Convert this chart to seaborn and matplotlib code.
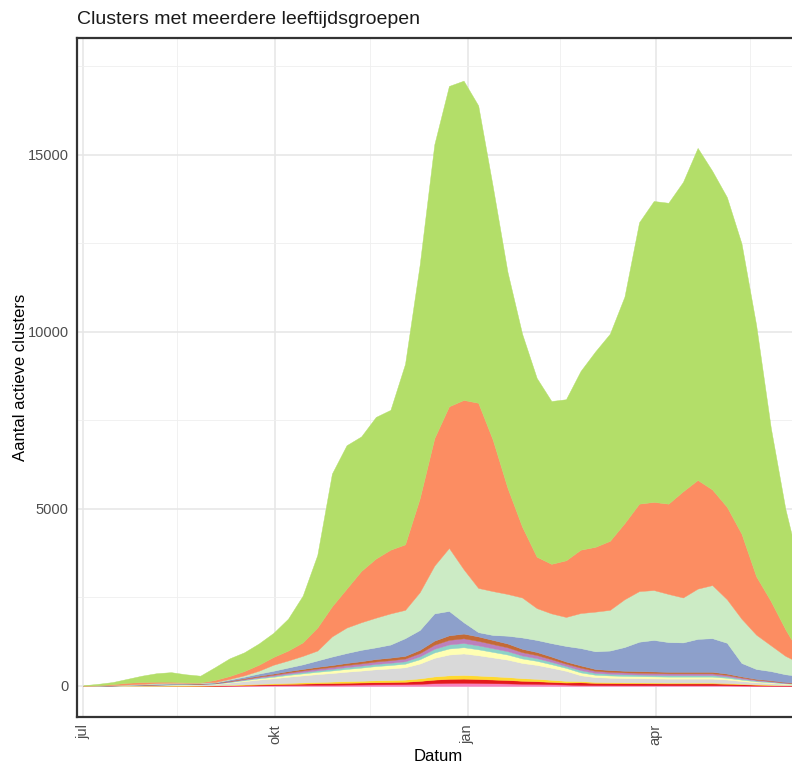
import matplotlib.pyplot as plt
import numpy as np
import pandas as pd
import seaborn as sns

# Weekly dates, 1 jul 2020 - 9 jun 2021
dates = pd.date_range("2020-07-01", periods=50, freq="7D")

# Upper edge of every band (stacked), bottom to top
pink_top = [0, 0, 1, 2, 2, 3, 3, 4, 4, 5, 9, 13, 17, 21, 25, 29, 32, 35, 39, 42,
            46, 48, 51, 61, 77, 86, 89, 84, 78, 72, 63, 58, 50, 41, 29, 24, 23, 22, 21, 21,
            20, 20, 20, 20, 18, 14, 10, 8, 6, 4]
red_top = [0, 1, 2, 4, 5, 6, 8, 8, 10, 13, 21, 31, 41, 49, 59, 67, 76, 83, 91, 98,
           106, 112, 119, 143, 179, 200, 207, 196, 182, 168, 147, 134, 116, 97, 104, 86, 81, 77, 76, 74,
           72, 72, 72, 72, 63, 49, 36, 29, 20, 14]
yellow_top = [1, 2, 3, 5, 7, 9, 12, 13, 15, 19, 32, 46, 61, 74, 88, 101, 113, 124, 137, 147,
              160, 168, 179, 214, 269, 300, 311, 294, 273, 252, 221, 202, 174, 145, 139, 115, 108, 103, 101, 98,
              96, 96, 96, 96, 84, 65, 48, 38, 26, 19]
grey_top = [2, 5, 9, 16, 22, 28, 34, 37, 43, 56, 93, 136, 180, 217, 260, 298, 335, 366, 403, 434,
            471, 496, 527, 632, 794, 887, 918, 868, 806, 744, 651, 595, 515, 428, 302, 250, 234, 224, 218, 213,
            208, 208, 208, 208, 182, 140, 104, 83, 57, 42]
pyellow_top = [2, 6, 11, 19, 26, 33, 41, 44, 52, 67, 111, 163, 215, 259, 311, 355, 400, 437, 481, 518,
               562, 592, 629, 755, 947, 1058, 1095, 1036, 962, 888, 777, 710, 614, 511, 383, 317, 297, 284, 277, 271,
               264, 264, 264, 264, 231, 178, 132, 106, 73, 53]
teal_top = [2, 7, 12, 21, 29, 37, 45, 49, 57, 74, 123, 180, 238, 287, 344, 394, 443, 484, 533, 574,
            623, 656, 697, 836, 1050, 1173, 1214, 1148, 1066, 984, 861, 787, 681, 566, 447, 370, 347, 331, 323, 316,
            308, 308, 308, 308, 270, 208, 154, 123, 85, 62]
purple_top = [3, 7, 14, 23, 32, 41, 50, 55, 64, 82, 137, 200, 264, 319, 382, 437, 491, 537, 592, 637,
              692, 728, 774, 928, 1165, 1301, 1347, 1274, 1183, 1092, 956, 874, 755, 628, 516, 427, 400, 383, 374, 365,
              356, 356, 356, 356, 312, 240, 178, 142, 98, 71]
brown_top = [3, 8, 15, 25, 35, 45, 55, 60, 70, 90, 150, 220, 290, 350, 420, 480, 540, 590, 650, 700,
             760, 800, 850, 1020, 1280, 1430, 1480, 1400, 1300, 1200, 1050, 960, 830, 690, 580, 480, 450, 430, 420, 410,
             400, 400, 400, 400, 350, 270, 200, 160, 110, 80]
blue_top = [5, 10, 20, 30, 45, 60, 70, 70, 80, 100, 180, 260, 350, 430, 520, 610, 720, 830, 930, 1020,
            1090, 1170, 1350, 1580, 2050, 2120, 1800, 1520, 1440, 1420, 1370, 1300, 1210, 1130, 1070, 980, 1000, 1100, 1250, 1300,
            1240, 1230, 1330, 1350, 1220, 650, 480, 420, 330, 280]
palegreen_top = [6, 12, 25, 40, 60, 80, 90, 90, 95, 110, 200, 300, 430, 600, 720, 850, 1000, 1400, 1650, 1800,
                 1930, 2050, 2150, 2650, 3400, 3900, 3300, 2770, 2680, 2600, 2500, 2200, 2050, 1950, 2060, 2100, 2150, 2450, 2680, 2710,
                 2600, 2500, 2750, 2850, 2450, 1900, 1450, 1150, 850, 650]
salmon_top = [10, 20, 50, 90, 110, 120, 120, 100, 100, 170, 280, 420, 600, 820, 1000, 1230, 1650, 2250, 2750, 3250,
              3600, 3850, 4000, 5300, 7000, 7900, 8080, 8000, 6950, 5600, 4500, 3650, 3450, 3550, 3850, 3930, 4100, 4600, 5150, 5200,
              5150, 5500, 5820, 5550, 5060, 4300, 3100, 2400, 1600, 900]
green_top = [20, 60, 110, 200, 290, 360, 390, 330, 290, 530, 780, 950, 1200, 1500, 1900, 2550, 3700, 6000, 6800, 7050,
             7600, 7800, 9100, 11900, 15300, 16950, 17100, 16400, 14100, 11700, 9950, 8700, 8050, 8100, 8900, 9450, 9950, 11000, 13100, 13700,
             13650, 14240, 15200, 14550, 13810, 12500, 10200, 7300, 5000, 3300]

bands = [
    (pink_top, "#f781bf"),
    (red_top, "#e41a1c"),
    (yellow_top, "#ffd92f"),
    (grey_top, "#d9d9d9"),
    (pyellow_top, "#ffffb3"),
    (teal_top, "#8dd3c7"),
    (purple_top, "#bc80bd"),
    (brown_top, "#c46a35"),
    (blue_top, "#8da0cb"),
    (palegreen_top, "#ccebc5"),
    (salmon_top, "#fc8d62"),
    (green_top, "#b3de69"),
]

month_ticks = pd.to_datetime(["2020-07-01", "2020-10-01", "2021-01-01", "2021-04-01"])
month_labels = ["jul", "okt", "jan", "apr"]
mid_ticks = pd.to_datetime(["2020-08-15", "2020-11-15", "2021-02-14", "2021-05-16"])

sns.set_theme(style="white")
plt.rcParams["font.family"] = ["Liberation Sans", "DejaVu Sans"]

fig = plt.figure(figsize=(7.92, 7.66), dpi=100)
ax = fig.add_axes([0.0972, 0.064, 0.9129, 0.8864])

lower = np.zeros(len(dates))
for top, col in bands:
    top = np.asarray(top, dtype=float)
    ax.fill_between(dates, lower, top, color=col, linewidth=0.3, edgecolor=col, zorder=2)
    lower = top

ax.set_xlim(pd.Timestamp("2020-06-28"), pd.Timestamp("2021-06-09"))
ax.set_ylim(-876, 18305)

ax.set_xticks(month_ticks)
ax.set_xticklabels(month_labels, rotation=90, fontsize=10.5, color="#4d4d4d")
ax.set_xticks(mid_ticks, minor=True)
ax.set_yticks([0, 5000, 10000, 15000])
ax.set_yticklabels(["0", "5000", "10000", "15000"], fontsize=10.5, color="#4d4d4d")
ax.set_yticks([2500, 7500, 12500, 17500], minor=True)
ax.tick_params(which="both", length=0)
ax.tick_params(axis="y", pad=6)
ax.tick_params(axis="x", pad=5)

ax.grid(which="major", color="#e6e6e6", linewidth=1.1, zorder=0)
ax.grid(which="minor", color="#efefef", linewidth=0.6, zorder=0)
ax.set_axisbelow(True)

for sp in ax.spines.values():
    sp.set_color("#333333")
    sp.set_linewidth(1.6)

ax.set_xlabel("Datum", fontsize=12, color="black", labelpad=3)
ax.set_ylabel("Aantal actieve clusters", fontsize=12, color="black", labelpad=0)
fig.text(77 / 792, 1 - 20 / 766, "Clusters met meerdere leeftijdsgroepen",
         ha="left", va="center", fontsize=14, color="#1a1a1a")

fig.savefig("out.png", dpi=100)
